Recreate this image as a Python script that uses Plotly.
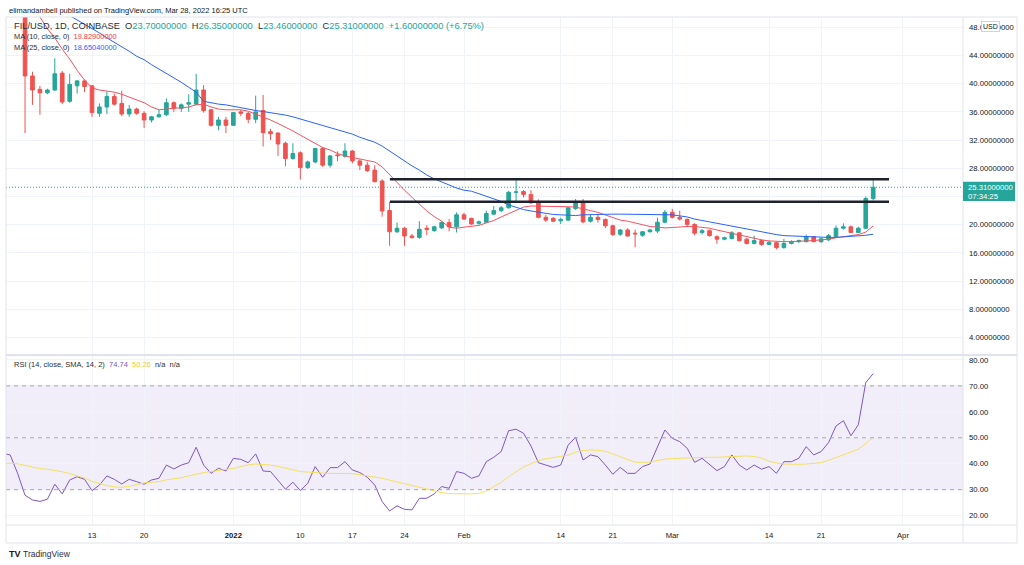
import pandas as pd
import plotly.graph_objects as go

# ---------------- data ----------------
dates = pd.date_range("2021-12-01", "2022-03-28", freq="D")

opens = [55.8, 57.9, 54.8, 51.6, 41.1, 39.2, 38.7, 39.1, 41.5, 37.5,
         39.7, 40.4, 39.7, 35.8, 36.7, 38.2, 37.2, 35.7, 36.4, 35.8,
         34.85, 35.3, 35.6, 37.3, 36.5, 37.1, 37.1, 39.1, 36.3, 34.1, 34.85,
         34.1, 36.0, 35.8, 34.95, 36.2, 33.2, 33.0, 31.55, 29.4, 30.2,
         28.1, 28.9, 30.8, 28.45, 29.9, 29.7, 30.45, 29.05, 28.45, 27.75,
         26.2, 22.0, 19.0, 19.5, 18.4, 18.2, 19.5, 19.15, 19.55, 20.3, 19.7,
         21.4, 20.9, 20.2, 20.35, 21.5, 22.0, 22.4, 24.6, 24.7, 24.3,
         23.25, 21.05, 20.9, 20.55, 20.65, 22.3, 23.25, 20.5, 21.05, 20.75,
         19.85, 18.65, 19.25, 18.8, 18.5, 19.0, 19.1, 20.35,
         21.75, 21.05, 20.75, 20.05, 18.9, 19.15, 18.3, 17.95, 18.05, 18.85,
         17.95, 17.35, 17.75, 17.2, 17.45, 16.75, 17.35, 17.6, 17.6, 18.3,
         17.6, 17.85, 18.3, 19.5, 19.7, 18.9, 19.5, 23.7]
highs = [59.5, 58.5, 56.5, 52.2, 41.7, 39.7, 39.3, 43.6, 41.8, 41.4,
         40.5, 40.6, 39.8, 37.2, 38.9, 38.6, 39.0, 37.0, 36.6, 36.1,
         35.4, 36.3, 37.9, 37.5, 37.2, 38.5, 41.4, 39.8, 36.4, 35.3, 35.3,
         36.0, 36.3, 36.0, 38.3, 38.4, 33.6, 33.1, 31.8, 31.55, 30.4,
         29.1, 30.9, 31.0, 29.9, 30.4, 31.55, 30.6, 29.3, 28.9, 28.45,
         26.45, 23.25, 20.3, 19.7, 18.7, 20.5, 19.95, 19.85, 20.5, 20.8, 21.75,
         21.7, 21.0, 20.6, 22.0, 22.65, 22.65, 24.8, 26.45, 24.9, 24.9,
         23.6, 21.4, 21.1, 21.0, 22.5, 23.65, 23.65, 21.4, 21.4, 20.9,
         20.0, 19.4, 19.5, 19.3, 19.1, 19.4, 21.0, 22.1,
         22.25, 22.0, 20.9, 20.2, 19.4, 19.3, 18.5, 18.3, 19.1, 18.9,
         18.1, 18.45, 17.9, 17.7, 17.6, 18.0, 17.8, 17.9, 18.6, 18.4,
         18.2, 18.7, 19.9, 20.2, 19.9, 19.7, 24.0, 26.35]
lows = [55.0, 53.5, 50.8, 33.0, 37.0, 35.6, 38.5, 39.0, 37.1, 37.3,
        38.6, 38.8, 35.3, 35.3, 35.7, 36.9, 35.4, 35.3, 35.6, 33.7,
        34.5, 35.2, 35.4, 36.0, 36.0, 36.0, 37.0, 35.9, 33.9, 33.4, 33.0,
        34.0, 35.4, 34.4, 34.4, 31.1, 32.0, 29.75, 28.3, 29.2, 26.4,
        27.9, 28.7, 28.2, 28.1, 29.0, 29.5, 28.7, 27.75, 27.5, 26.0,
        21.15, 17.0, 18.8, 17.0, 18.0, 18.0, 18.55, 19.0, 19.4, 19.05, 18.9,
        20.7, 20.0, 20.0, 20.3, 21.4, 21.8, 22.3, 23.25, 23.85, 23.0,
        20.9, 20.4, 20.4, 20.1, 20.5, 22.1, 20.2, 20.3, 20.3, 19.5,
        18.4, 18.4, 18.3, 16.8, 18.3, 18.9, 18.8, 20.2,
        20.9, 20.6, 19.7, 18.5, 18.6, 18.3, 17.3, 17.8, 17.9, 17.6,
        17.2, 17.2, 17.0, 17.1, 16.5, 16.6, 17.2, 17.4, 17.5, 17.5,
        17.4, 17.7, 18.2, 19.3, 18.8, 18.8, 19.4, 23.46]
closes = [57.9, 54.8, 51.6, 41.1, 39.1, 38.7, 39.1, 41.4, 37.4, 39.9,
          40.4, 39.6, 35.9, 36.7, 38.2, 37.1, 35.7, 36.4, 35.8, 34.85,
          35.3, 35.6, 37.3, 36.5, 37.0, 37.3, 39.1, 36.2, 34.1, 34.85, 34.1,
          35.9, 35.8, 34.95, 36.0, 33.05, 32.9, 31.45, 29.4, 30.1, 28.1,
          28.9, 30.8, 28.45, 29.75, 29.8, 30.45, 29.05, 28.45, 27.65, 26.1,
          21.95, 19.0, 19.5, 18.4, 18.2, 19.35, 19.35, 19.7, 20.3, 19.7, 21.4,
          20.8, 20.1, 20.4, 21.6, 22.0, 22.4, 24.6, 24.65, 24.3, 23.1,
          21.05, 20.65, 20.5, 20.75, 22.4, 23.25, 20.4, 21.05, 20.75, 19.85,
          18.6, 19.25, 18.4, 18.7, 19.0, 19.25, 20.35, 21.75,
          21.05, 20.8, 20.05, 18.8, 19.15, 18.45, 17.95, 18.15, 18.85, 17.75,
          17.35, 17.75, 17.2, 17.5, 16.75, 17.35, 17.6, 17.75, 18.3, 17.6,
          18.0, 18.45, 19.5, 19.7, 18.9, 19.5, 23.71, 25.31]

ma10 = [57.0, 56.0, 54.5, 52.8, 51.0, 49.3, 47.8, 46.5, 44.9, 43.5,
        41.9, 40.5, 39.4, 39.1, 39.0, 38.8, 38.5, 38.1, 37.7, 37.3,
        36.7, 36.3, 36.4, 36.55, 36.55, 36.7, 37.0, 37.1, 36.7, 36.4, 36.3,
        36.3, 36.3, 36.1, 35.7, 35.35, 34.85, 34.35, 33.85, 33.3, 32.7,
        32.15, 31.5, 30.95, 30.6, 30.1, 29.75, 29.55, 29.3, 29.1, 28.9,
        28.2, 27.05, 25.9, 24.9, 23.9, 22.95, 21.95, 21.15, 20.5, 19.65, 19.5,
        19.65, 19.75, 19.9, 20.25, 20.6, 21.1, 21.6, 22.1, 22.5, 22.65,
        22.65, 22.6, 22.55, 22.55, 22.55, 22.5, 22.3, 22.0, 21.75, 21.4,
        20.95, 20.65, 20.5, 20.3, 20.0, 19.75, 19.6, 19.55,
        19.6, 19.7, 19.75, 19.75, 19.65, 19.5, 19.25, 19.0, 18.8, 18.55,
        18.25, 18.05, 17.85, 17.7, 17.6, 17.6, 17.6, 17.6, 17.7, 17.75,
        17.8, 17.95, 18.15, 18.3, 18.45, 18.6, 18.95, 19.829]
ma25 = [54.8, 54.3, 53.8, 53.3, 52.7, 52.1, 51.5, 50.9, 50.3, 49.65,
        49.1, 48.5, 47.85, 47.2, 46.5, 45.9, 45.2, 44.6, 43.9, 43.4,
        42.7, 42.1, 41.45, 40.8, 40.2, 39.5, 38.8, 37.5, 37.25, 37.1, 37.0,
        36.8, 36.6, 36.3, 36.2, 36.05, 35.9, 35.75, 35.55, 35.3, 35.0,
        34.7, 34.4, 34.15, 33.85, 33.55, 33.2, 32.85, 32.4, 32.1, 31.7,
        31.15, 30.45, 29.75, 28.95, 28.35, 27.75, 27.05, 26.5, 26.05, 25.6, 25.2,
        24.9, 24.75, 24.4, 24.05, 23.7, 23.3, 22.8, 22.45, 22.15, 21.95,
        21.75, 21.6, 21.45, 21.4, 21.3, 21.3, 21.4, 21.45, 21.45, 21.45,
        21.5, 21.5, 21.5, 21.5, 21.5, 21.5, 21.5, 21.45,
        21.4, 21.25, 21.1, 20.8, 20.6, 20.4, 20.15, 19.95, 19.75, 19.5,
        19.3, 19.1, 18.9, 18.75, 18.6, 18.45, 18.4, 18.3, 18.25, 18.25,
        18.2, 18.2, 18.2, 18.25, 18.3, 18.4, 18.5, 18.6504]

rsi = [44.0, 43.4, 36.3, 27.85, 26.05, 25.5, 26.3, 32.1, 28.4, 33.75,
       35.0, 34.0, 29.65, 31.8, 35.3, 34.0, 32.2, 34.0, 33.1, 32.1,
       33.75, 34.4, 39.5, 38.0, 39.5, 40.4, 46.35, 39.5, 36.3, 38.25, 37.2,
       42.1, 41.7, 40.4, 43.8, 37.2, 37.0, 33.75, 30.2, 32.9, 29.65,
       32.5, 38.9, 34.8, 38.5, 38.5, 40.8, 37.6, 36.6, 34.8, 31.8,
       25.4, 21.8, 23.75, 22.45, 22.2, 26.7, 26.7, 28.4, 31.2, 30.55, 37.0,
       36.3, 34.4, 35.3, 40.8, 42.5, 44.7, 52.75, 53.3, 51.75, 46.85,
       40.4, 39.5, 38.6, 39.5, 47.2, 50.2, 41.45, 43.4, 42.75, 39.5,
       35.95, 38.6, 36.3, 36.3, 38.9, 39.9, 46.6, 53.0,
       49.8, 48.5, 45.95, 40.55, 42.1, 39.9, 37.35, 38.9, 43.4, 39.5,
       37.6, 39.5, 37.9, 38.9, 36.3, 40.8, 40.8, 42.1, 46.6, 43.4,
       44.7, 48.15, 54.55, 56.6, 50.8, 55.0, 71.25, 74.74]
rsi_sma = [39.9, 40.2, 40.0, 39.4, 38.6, 38.1, 37.9, 37.5, 36.9, 36.2,
           35.3, 34.5, 33.2, 32.3, 31.6, 31.1, 30.9, 31.3, 31.9, 32.6,
           32.9, 33.1, 33.8, 34.2, 34.6, 35.3, 36.0, 36.6, 37.0, 37.3, 37.8,
           38.2, 38.8, 39.6, 39.9, 39.7, 39.5, 39.0, 38.4, 37.7, 37.0,
           36.8, 36.5, 36.4, 36.3, 36.3, 36.3, 36.2, 35.8, 35.4, 35.0,
           34.4, 33.7, 33.0, 32.5, 31.6, 30.9, 30.2, 29.6, 28.9, 28.5, 28.4,
           28.4, 28.4, 28.6, 29.5, 31.2, 32.8, 35.0, 37.0, 38.8, 40.0,
           41.2, 41.9, 42.3, 42.7, 43.3, 44.5, 45.1, 45.3, 45.2, 44.8,
           43.8, 42.7, 41.5, 40.6, 40.5, 40.6, 41.2, 41.8,
           42.0, 42.1, 42.3, 42.5, 42.5, 42.5, 42.5, 42.6, 42.8, 43.0,
           43.0, 42.8, 42.2, 41.0, 40.3, 39.9, 39.8, 39.8, 39.9, 40.1,
           40.4, 41.3, 42.4, 43.3, 44.4, 45.6, 47.8, 50.26]

price_ticks = [4, 8, 12, 16, 20, 24, 28, 32, 36, 40, 44, 48]
rsi_ticks = [20, 30, 40, 50, 60, 70, 80]
rsi_levels = [70, 50, 30]
x_tick_dates = ["2021-12-13", "2021-12-20", "2022-01-01", "2022-01-10", "2022-01-17",
                "2022-01-24", "2022-02-01", "2022-02-14", "2022-02-21", "2022-03-01",
                "2022-03-14", "2022-03-21", "2022-04-01"]
x_tick_labels = ["13", "20", "<b>2022</b>", "10", "17", "24", "Feb", "14", "21", "Mar",
                 "14", "21", "Apr"]
level_prices = [26.45, 23.25]
level_start = "2022-01-22 01:00"
level_end = "2022-03-30 03:00"

for arr in (opens, highs, lows, closes, ma10, ma25, rsi, rsi_sma):
    if len(arr) != len(dates):
        raise ValueError(f"length mismatch {len(arr)} vs {len(dates)}")

# ---------------- styling ----------------
W, H = 1024, 565
GREEN, RED = "#26A69A", "#EF5350"
TXT = "#131722"
GRID = "#F0F3FA"
BORDER = "#E0E3EB"
FONT = "Liberation Sans, Arial, sans-serif"
FS = 7.7


def px(xp):
    return xp / W


def py(yp):
    return 1 - yp / H


L, R = 6, 963
MAIN_TOP, MAIN_BOT, RSI_BOT = 17, 355, 525
x_range = ["2021-12-01 10:35", "2022-04-09 01:41"]

last = closes[-1]

fig = go.Figure()
fig.add_trace(go.Candlestick(
    x=dates, open=opens, high=highs, low=lows, close=closes,
    increasing=dict(line=dict(color=GREEN, width=1), fillcolor=GREEN),
    decreasing=dict(line=dict(color=RED, width=1), fillcolor=RED),
    whiskerwidth=0, xaxis="x", yaxis="y", showlegend=False, hoverinfo="skip"))
fig.add_trace(go.Scatter(x=dates, y=ma10, mode="lines", line=dict(color="#F7525F", width=1),
                         xaxis="x", yaxis="y", showlegend=False, hoverinfo="skip"))
fig.add_trace(go.Scatter(x=dates, y=ma25, mode="lines", line=dict(color="#2962FF", width=1),
                         xaxis="x", yaxis="y", showlegend=False, hoverinfo="skip"))
fig.add_trace(go.Scatter(x=dates, y=rsi, mode="lines", line=dict(color="#7E57C2", width=1),
                         xaxis="x2", yaxis="y2", showlegend=False, hoverinfo="skip"))
fig.add_trace(go.Scatter(x=dates, y=rsi_sma, mode="lines", line=dict(color="#F5E15C", width=1),
                         xaxis="x2", yaxis="y2", showlegend=False, hoverinfo="skip"))

xcommon = dict(domain=[px(L), px(R)], type="date", range=x_range,
               tickvals=x_tick_dates, ticktext=x_tick_labels,
               showgrid=True, gridcolor=GRID, gridwidth=1, zeroline=False,
               showline=False, ticks="", fixedrange=True, ticklabelstandoff=4,
               tickfont=dict(family=FONT, size=FS, color=TXT))

shapes = []
# RSI band and level lines
shapes.append(dict(type="rect", xref="x2 domain", yref="y2", x0=0, x1=1, y0=30, y1=70,
                   fillcolor="rgba(126,87,194,0.1)", line=dict(width=0), layer="below"))
for lv in rsi_levels:
    shapes.append(dict(type="line", xref="x2 domain", yref="y2", x0=0, x1=1, y0=lv, y1=lv,
                       line=dict(color="#A3A6AF", width=1, dash="4px,4px"), layer="above"))
# user horizontal levels
for lp in level_prices:
    shapes.append(dict(type="line", xref="x", yref="y", x0=level_start, x1=level_end,
                       y0=lp, y1=lp, line=dict(color="#1E222D", width=2.5), layer="above"))
# last price dotted line
shapes.append(dict(type="line", xref="x domain", yref="y", x0=0, x1=1, y0=last, y1=last,
                   line=dict(color=GREEN, width=1, dash="1px,2px"), layer="above"))
# frame lines
shapes.append(dict(type="rect", xref="paper", yref="paper", x0=px(L), x1=px(1017),
                   y0=py(543), y1=py(MAIN_TOP), line=dict(color=BORDER, width=1),
                   fillcolor="rgba(0,0,0,0)", layer="above"))
shapes.append(dict(type="line", xref="paper", yref="paper", x0=px(R), x1=px(R),
                   y0=py(543), y1=py(MAIN_TOP), line=dict(color=BORDER, width=1), layer="above"))
shapes.append(dict(type="line", xref="paper", yref="paper", x0=px(L), x1=px(1017),
                   y0=py(MAIN_BOT), y1=py(MAIN_BOT), line=dict(color=BORDER, width=2), layer="above"))
shapes.append(dict(type="line", xref="paper", yref="paper", x0=px(L), x1=px(1017),
                   y0=py(RSI_BOT), y1=py(RSI_BOT), line=dict(color=BORDER, width=1), layer="above"))
# last price label box
shapes.append(dict(type="rect", xref="paper", yref="y", ysizemode="pixel", yanchor=last,
                   x0=px(R), x1=px(1015), y0=-13.7, y1=5.6,
                   fillcolor=GREEN, line=dict(width=0), layer="above"))

chg = closes[-1] - closes[-2]
pct = chg / closes[-2] * 100
teal = lambda s: f"<span style='color:{GREEN}'>{s}</span>"
sp = "\u00a0\u00a0"
legend1 = ("FIL/USD, 1D, COINBASE" + sp + "O" + teal(f"{opens[-1]:.8f}") + sp + "H" + teal(f"{highs[-1]:.8f}")
           + sp + "L" + teal(f"{lows[-1]:.8f}") + sp + "C" + teal(f"{last:.8f}") + sp
           + teal(f"+{chg:.8f} (+{pct:.2f}%)"))
legend2 = "MA (10, close, 0)" + sp + f"<span style='color:#F23645'>{ma10[-1]:.8f}</span>"
legend3 = "MA (25, close, 0)" + sp + f"<span style='color:#2962FF'>{ma25[-1]:.8f}</span>"
legend_rsi = ("RSI (14, close, SMA, 14, 2)" + sp + f"<span style='color:#7E57C2'>{rsi[-1]:.2f}</span>"
              + sp + f"<span style='color:#E8CF2C'>{rsi_sma[-1]:.2f}</span>" + sp + "n/a" + sp + "n/a")

ann = []
ann.append(dict(text="elimandambell published on TradingView.com, Mar 28, 2022 16:25 UTC",
                x=px(7), y=py(10), xref="paper", yref="paper", xanchor="left", yanchor="middle",
                showarrow=False, font=dict(family=FONT, size=7.5, color=TXT)))
for t, yy, fs in ((legend1, 25.7, 9.3), (legend2, 36.7, 7.4), (legend3, 47.3, 7.4),
                  (legend_rsi, 364.5, 7.5)):
    ann.append(dict(text=t, x=px(11.5), y=py(yy), xref="paper", yref="paper", xanchor="left",
                    yanchor="middle", showarrow=False, font=dict(family=FONT, size=fs, color="#2A2E39")))
ann.append(dict(text=f"{last:.8f}", x=px(966), y=last, xref="paper", yref="y", xanchor="left",
                yanchor="middle", showarrow=False, font=dict(family=FONT, size=FS, color="white")))
ann.append(dict(text="07:34:25", x=px(966), y=last, yshift=-9.5, xref="paper", yref="y",
                xanchor="left", yanchor="middle", showarrow=False,
                font=dict(family=FONT, size=FS, color="white")))
ann.append(dict(text="USD", x=px(990), y=py(27), xref="paper", yref="paper", xanchor="center",
                yanchor="middle", showarrow=False, bgcolor="white", bordercolor="#D1D4DC",
                borderwidth=1, borderpad=1, font=dict(family=FONT, size=7, color=TXT)))
ann.append(dict(text="<b>TV</b>", x=px(6.5), y=py(553.5), xref="paper", yref="paper", xanchor="left",
                yanchor="middle", showarrow=False, font=dict(family=FONT, size=9, color=TXT)))
ann.append(dict(text="TradingView", x=px(20.5), y=py(553.5), xref="paper", yref="paper",
                xanchor="left", yanchor="middle", showarrow=False,
                font=dict(family=FONT, size=8.5, color="#2A2E39")))

# the last-price label hides the 24 tick label, as on the original
price_ticktext = ["" if v == 24 else f"{v:.8f}" for v in price_ticks]

fig.update_layout(
    width=W, height=H, margin=dict(l=0, r=0, t=0, b=0),
    paper_bgcolor="white", plot_bgcolor="white", showlegend=False,
    font=dict(family=FONT, size=FS, color=TXT),
    xaxis=dict(**xcommon, anchor="y", showticklabels=False, rangeslider=dict(visible=False)),
    xaxis2=dict(**xcommon, anchor="y2", matches="x", showticklabels=True),
    yaxis=dict(domain=[py(MAIN_BOT), py(MAIN_TOP)], anchor="x", side="right",
               range=[1.52, 49.46], tickvals=price_ticks, ticktext=price_ticktext,
               showgrid=True, gridcolor=GRID,
               zeroline=False, showline=False, ticks="", fixedrange=True, ticklabelstandoff=5,
               tickfont=dict(family=FONT, size=FS, color=TXT)),
    yaxis2=dict(domain=[py(RSI_BOT), py(MAIN_BOT)], anchor="x2", side="right",
                range=[16.4, 81.9], tickvals=rsi_ticks,
                ticktext=[f"{v:.2f}" for v in rsi_ticks], showgrid=True, gridcolor=GRID,
                zeroline=False, showline=False, ticks="", fixedrange=True, ticklabelstandoff=5,
                tickfont=dict(family=FONT, size=FS, color=TXT)),
    shapes=shapes, annotations=ann,
)

fig.write_html("out.html")
